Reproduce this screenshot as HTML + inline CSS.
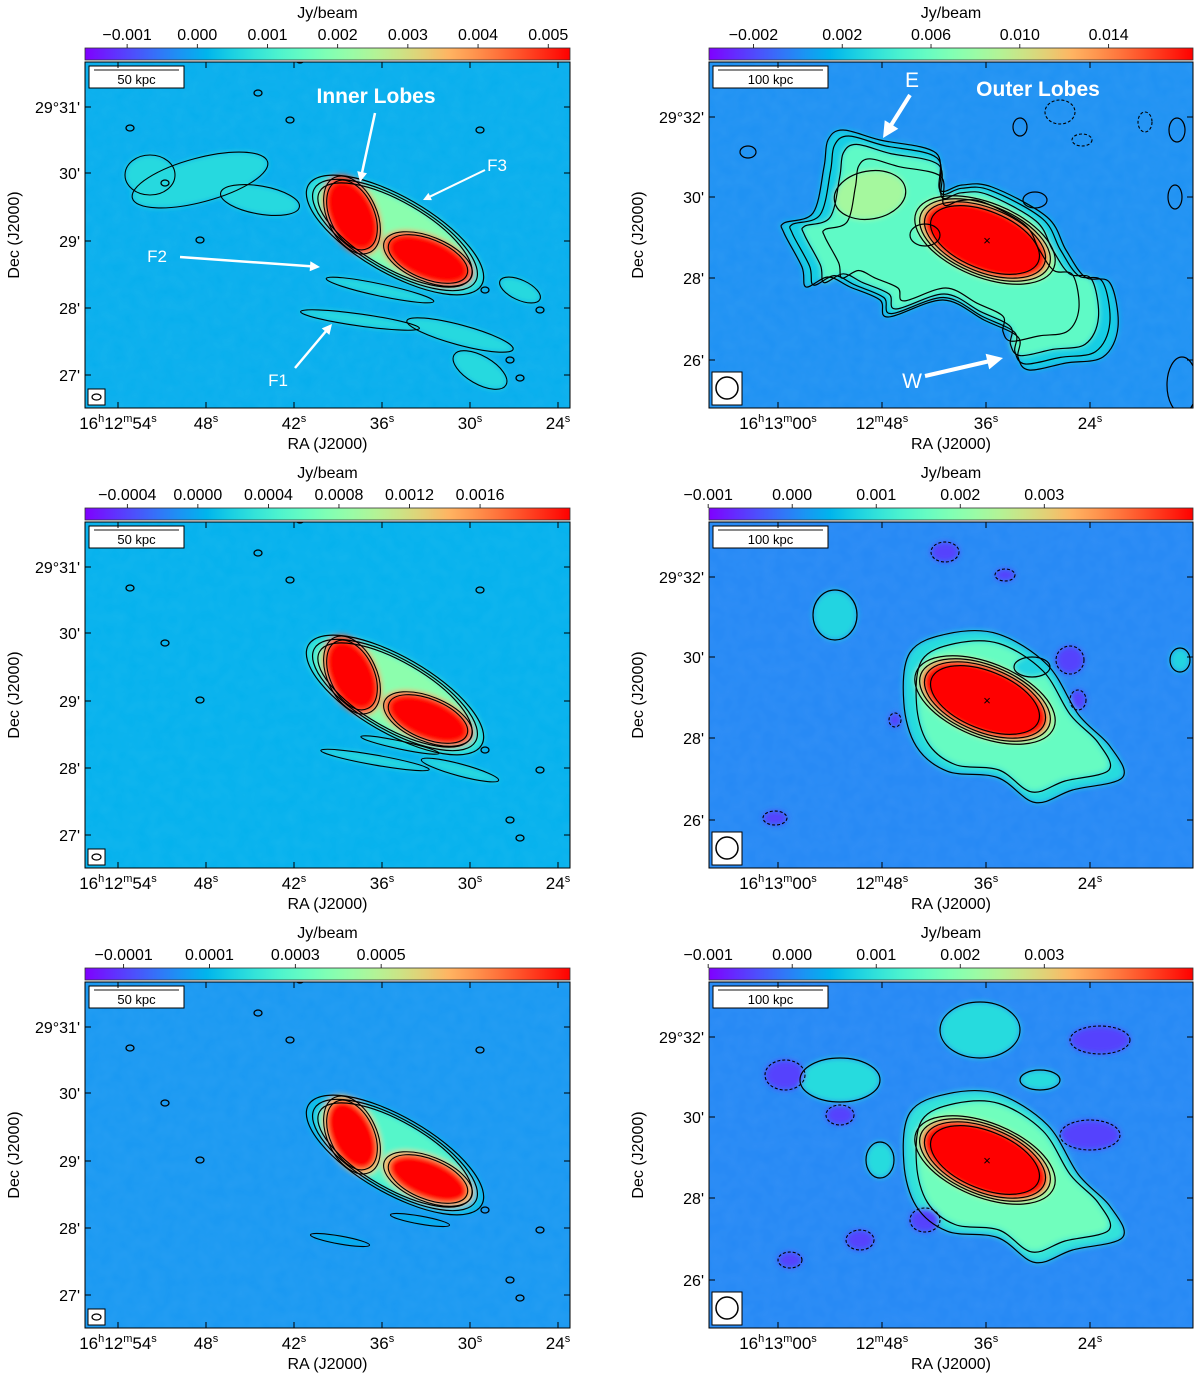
<!DOCTYPE html>
<html><head><meta charset="utf-8"><style>
html,body{margin:0;padding:0;background:#fff}
svg{display:block;font-family:"Liberation Sans","DejaVu Sans",sans-serif}
</style></head><body>
<svg id="fig" width="1200" height="1379" viewBox="0 0 1200 1379" xmlns="http://www.w3.org/2000/svg">
<defs>
<filter id="blur" x="-30%" y="-30%" width="160%" height="160%"><feGaussianBlur stdDeviation="3"/></filter>
<filter id="noise" x="0" y="0" width="100%" height="100%"><feTurbulence type="fractalNoise" baseFrequency="0.08" numOctaves="2" seed="3"/><feColorMatrix values="0 0 0 0 1  0 0 0 0 1  0 0 0 0 1  0 0 0 0.10 0"/></filter>
</defs>
</svg>
<script>
// ---- data ----
const cbMin = [-0.0016, -0.0040, -0.00064, -0.00099, -0.00019, -0.00099];
const cbMax = [0.00531, 0.0178, 0.00211, 0.00477, 0.00094, 0.00477];
const cbTicks = [
  [-0.001,0,0.001,0.002,0.003,0.004,0.005],
  [-0.002,0.002,0.006,0.010,0.014],
  [-0.0004,0,0.0004,0.0008,0.0012,0.0016],
  [-0.001,0,0.001,0.002,0.003],
  [-0.0001,0.0001,0.0003,0.0005],
  [-0.001,0,0.001,0.002,0.003]
];
const cbLabels = [
  ["−0.001","0.000","0.001","0.002","0.003","0.004","0.005"],
  ["−0.002","0.002","0.006","0.010","0.014"],
  ["−0.0004","0.0000","0.0004","0.0008","0.0012","0.0016"],
  ["−0.001","0.000","0.001","0.002","0.003"],
  ["−0.0001","0.0001","0.0003","0.0005"],
  ["−0.001","0.000","0.001","0.002","0.003"]
];
const bgValue = [0.00005, 0.0002, 0.00003, 0.00004, 0.00004, 0.00004];
const leftLevels = [[0.0008,0.0020,0.0065],[0.00035,0.0008,0.0025],[0.00012,0.00028,0.0009]];
const rightLevels = [[0.0025,0.0055,0.0085,0.020],[0.0009,0.0016,0.0024,0.006],[0.0010,0.0017,0.0024,0.006]];
const leftYLabels = ["29°31'","30'","29'","28'","27'"];
const rightYLabels = ["29°32'","30'","28'","26'"];
// ---- geometry ----
const svg = document.getElementById('fig');
const NS = 'http://www.w3.org/2000/svg';
function mk(tag, attrs, parent){const e=document.createElementNS(NS,tag);for(const k in attrs)e.setAttribute(k,attrs[k]);(parent||svg).appendChild(e);return e;}
function rainbow(t){t=Math.max(0,Math.min(1,t));const c=v=>Math.round(255*Math.max(0,Math.min(1,v)));
  return 'rgb('+c(Math.abs(2*t-0.5))+','+c(Math.sin(Math.PI*t))+','+c(Math.cos(Math.PI*t/2))+')';}
const cols=[{x0:85,x1:570},{x0:709,x1:1193}];
const rowDy=[0,460,920];
const leftYPos=[107,173,241,308,375], rightYPos=[117,197,278,360];
const leftXPos=[118,206,294,382,470,558], rightXPos=[778,882,986,1090];
const leftXLab=[["16","h","12","m","54","s"],["48","s"],["42","s"],["36","s"],["30","s"],["24","s"]];
const rightXLab=[["16","h","13","m","00","s"],["12","m","48","s"],["36","s"],["24","s"]];

function ellipsePath(cx,cy,rx,ry,rot){return {cx,cy,rx,ry,rot};}
function drawEll(g,e,s,fill,stroke,sw,dash,filt){
  const a={cx:e.cx,cy:e.cy,rx:e.rx*s,ry:e.ry*s,transform:'rotate('+e.rot+' '+e.cx+' '+e.cy+')',fill:fill||'none'};
  if(stroke){a.stroke=stroke;a['stroke-width']=sw||1.2;} if(dash)a['stroke-dasharray']=dash; if(filt)a.filter=filt;
  return mk('ellipse',a,g);}
function polyD(pts,dy,sc,cx,cy){
  const P=pts.map(p=>[cx+(p[0]-cx)*sc,cy+(p[1]-cy)*sc+dy]);const n=P.length;
  let d='M'+P[0][0].toFixed(1)+','+P[0][1].toFixed(1);
  for(let i=0;i<n;i++){const p0=P[(i-1+n)%n],p1=P[i],p2=P[(i+1)%n],p3=P[(i+2)%n];
    const c1=[p1[0]+(p2[0]-p0[0])/6,p1[1]+(p2[1]-p0[1])/6],c2=[p2[0]-(p3[0]-p1[0])/6,p2[1]-(p3[1]-p1[1])/6];
    d+=' C'+c1.map(v=>v.toFixed(1)).join(',')+' '+c2.map(v=>v.toFixed(1)).join(',')+' '+p2.map(v=>v.toFixed(1)).join(',');}
  return d+' Z';}

const outerPts=[[828,140],[843,130],[880,140],[936,153],[940,190],[962,185],[992,187],[1047,217],[1066,250],[1085,277],[1110,283],[1118,327],[1103,357],[1066,363],[1029,370],[1018,357],[1018,337],[984,320],[943,300],[888,317],[880,300],[850,287],[828,277],[806,287],[802,267],[784,233],[784,223],[813,213],[824,167]];
const core2Pts=[[930,205],[960,190],[1000,190],[1040,215],[1065,255],[1090,280],[1100,305],[1060,315],[1030,325],[1000,305],[960,300],[935,280],[925,245]];

for(let p=0;p<6;p++){
  const r=Math.floor(p/2), c=p%2, dy=rowDy[r], x0=cols[c].x0, x1=cols[c].x1;
  const vmin=cbMin[p], vmax=cbMax[p];
  const sx=v=>x0+(v-vmin)/(vmax-vmin)*(x1-x0);
  const col=v=>rainbow((v-vmin)/(vmax-vmin));
  const g=mk('g',{},svg);
  
  
  const gid='cb'+p;
  const lg=mk('linearGradient',{id:gid,x1:0,x2:1,y1:0,y2:0},svg.querySelector('defs'));
  for(let i=0;i<=20;i++)mk('stop',{offset:(i/20),'stop-color':rainbow(i/20)},lg);
  const cb=mk('rect',{x:x0,y:48+dy,width:x1-x0,height:12,fill:'url(#'+gid+')',stroke:'#333','stroke-width':0.8},g);
  
  
  cbTicks[p].forEach((v,i)=>{const x=sx(v);
    mk('line',{x1:x,x2:x,y1:48+dy,y2:44+dy,stroke:'#000','stroke-width':0.8},g);
    const t=mk('text',{x:x,y:40+dy,'text-anchor':'middle','font-size':16,fill:'#000'},g);t.textContent=cbLabels[p][i];
    
    });
  const jl=mk('text',{x:(x0+x1)/2,y:18+dy,'text-anchor':'middle','font-size':16},g);jl.textContent='Jy/beam';
  
  
  const cid='clip'+p;
  const cp=mk('clipPath',{id:cid},svg.querySelector('defs'));mk('rect',{x:x0,y:62+dy,width:x1-x0,height:346},cp);
  const im=mk('g',{'clip-path':'url(#'+cid+')'},g);
  
  
  mk('rect',{x:x0,y:62+dy,width:x1-x0,height:346,fill:col(bgValue[p])},im);
  mk('rect',{x:x0,y:62+dy,width:x1-x0,height:346,filter:'url(#noise)',opacity:0.6},im);
  const fills=mk('g',{filter:'url(#blur)'},im), cont=mk('g',{},im);
  if(c===0){
    const L=leftLevels[r];
    const env=ellipsePath(395,235+dy,100,38,30), eL=ellipsePath(352,215+dy,22,37,-25), wL=ellipsePath(428,259+dy,42,20,22);
    if(r===0){
      const fil=[[200,180,70,22,-15],[150,175,25,20,0],[260,200,40,14,10],[360,320,60,6,8],[460,335,55,10,15],[380,290,55,6,12],[480,370,30,14,30],[520,290,22,10,25]];
      fil.forEach(f=>{const e=ellipsePath(f[0],f[1]+dy,f[2],f[3],f[4]);drawEll(fills,e,1,col(L[0]*0.8));drawEll(cont,e,1,null,'#000',1.1);});
    } else {
      const fil=r===1?[[375,300,55,5,10],[460,310,40,6,15],[400,285,40,4,12]]:[[340,320,30,4,10],[420,300,30,4,10]];
      fil.forEach(f=>{const e=ellipsePath(f[0],f[1]+dy,f[2],f[3],f[4]);drawEll(fills,e,1,col(L[0]*0.7));drawEll(cont,e,1,null,'#000',1.1);});
    }
    drawEll(fills,env,1,col(L[0])); drawEll(fills,env,0.88,col(L[1]));
    drawEll(fills,eL,1.15,col(L[2]*0.7)); drawEll(fills,wL,1.15,col(L[2]*0.7));
    drawEll(fills,eL,1,col(L[2]*1.2)); drawEll(fills,wL,1,col(L[2]*1.1));
    [1,0.93,0.87].forEach(s=>drawEll(cont,env,s,null,'#000',1.2));
    [1.12,1].forEach(s=>{drawEll(cont,eL,s,null,'#000',1.1);drawEll(cont,wL,s,null,'#000',1.1);});
    [[258,93],[130,128],[165,183],[480,130],[540,310],[520,378],[200,240],[300,60],[290,120],[485,290],[510,360]].forEach(s=>{
      mk('ellipse',{cx:s[0],cy:s[1]+dy,rx:4,ry:3,fill:'none',stroke:'#000','stroke-width':1.3},cont);});
  } else {
    const L=rightLevels[r];
    const core=ellipsePath(985,240+dy,64,32,22);
    if(r===0){
      mk('path',{d:polyD(outerPts,dy,1,955,250),fill:col(L[0])},fills);
      mk('path',{d:polyD(outerPts,dy,0.88,955,250),fill:col(L[1])},fills);
      drawEll(fills,ellipsePath(870,195+dy,36,24,-10),1,col(L[2]));
      [1,0.95,0.88,0.76].forEach(s=>mk('path',{d:polyD(outerPts,dy,s,955,250),fill:'none',stroke:'#000','stroke-width':1.2},cont));
      mk('ellipse',{cx:870,cy:195+dy,rx:36,ry:24,transform:'rotate(-10 870 '+(195+dy)+')',fill:'none',stroke:'#000','stroke-width':1.2},cont);
      mk('ellipse',{cx:925,cy:235+dy,rx:15,ry:11,fill:'none',stroke:'#000','stroke-width':1.2},cont);
      [[1020,127,7,9],[1035,200,12,8],[1175,197,7,12],[1177,130,8,12],[748,152,8,6],[1182,385,15,28]].forEach(s=>mk('ellipse',{cx:s[0],cy:s[1]+dy,rx:s[2],ry:s[3],fill:'none',stroke:'#000','stroke-width':1.2},cont));
      [[1060,112,15,12],[1082,140,10,6],[1145,122,7,10]].forEach(s=>mk('ellipse',{cx:s[0],cy:s[1]+dy,rx:s[2],ry:s[3],fill:'none',stroke:'#000','stroke-width':1.1,'stroke-dasharray':'3,2'},cont));
    } else {
      mk('path',{d:polyD(core2Pts,dy,1.25,1010,255),fill:col(L[0])},fills);
      mk('path',{d:polyD(core2Pts,dy,1.08,1010,255),fill:col(L[1])},fills);
      [1.25,1.1].forEach(s=>mk('path',{d:polyD(core2Pts,dy,s,1010,255),fill:'none',stroke:'#000','stroke-width':1.2},cont));
      const blobs=r===1?[[835,155,22,25],[1032,207,18,10],[1180,200,10,12]]:[[840,160,40,22],[880,240,14,18],[980,110,40,28],[1040,160,20,10]];
      blobs.forEach(s=>{const e=ellipsePath(s[0],s[1]+dy,s[2],s[3],0);drawEll(fills,e,1,col(L[0]*0.9));drawEll(cont,e,1,null,'#000',1.2);});
      const neg=r===1?[[945,92,14,10],[1070,200,14,14],[1078,240,8,10],[1005,115,10,6],[775,358,12,7],[895,260,6,7]]:[[785,155,20,15],[840,195,14,10],[1090,215,30,15],[1100,120,30,14],[925,300,15,12],[860,320,14,10],[790,340,12,8]];
      neg.forEach(s=>{const e=ellipsePath(s[0],s[1]+dy,s[2],s[3],0);drawEll(fills,e,1,col(-0.0005));drawEll(cont,e,1,null,'#000',1.1,'3,2');});
    }
    drawEll(fills,core,1.15,col(L[2]));
    drawEll(fills,core,1.05,col(L[3]*0.7));
    drawEll(fills,core,1,col(L[3]*1.5));
    [1.16,1.08,1,0.9].forEach(s=>drawEll(cont,core,s,null,'#000',1.2));
    const xm=mk('text',{x:987,y:245+dy,'text-anchor':'middle','font-size':13,fill:'#000'},cont);xm.textContent='×';
    
    
  }
  mk('rect',{x:x0,y:62+dy,width:x1-x0,height:346,fill:'none',stroke:'#000','stroke-width':1},g);
  const sbw=c===0?95:115;
  const sb=mk('g',{},g);
  
  
  mk('rect',{x:x0+4,y:66+dy,width:sbw,height:22,fill:'#fff',stroke:'#000','stroke-width':1},sb);
  mk('line',{x1:x0+9,x2:x0+sbw-1,y1:70+dy,y2:70+dy,stroke:'#444','stroke-width':1.2},sb);
  const st=mk('text',{x:x0+4+sbw/2,y:84+dy,'text-anchor':'middle','font-size':13},sb);st.textContent=c===0?'50 kpc':'100 kpc';
  const bm=mk('g',{},g);
  
  
  if(c===0){mk('rect',{x:88,y:389+dy,width:17,height:16,fill:'#fff',stroke:'#000'},bm);mk('ellipse',{cx:96.5,cy:397+dy,rx:4.5,ry:3,fill:'none',stroke:'#000','stroke-width':1.3},bm);}
  else{mk('rect',{x:712,y:372+dy,width:30,height:33,fill:'#fff',stroke:'#000'},bm);mk('circle',{cx:727,cy:388+dy,r:11,fill:'none',stroke:'#000','stroke-width':1.5},bm);}
  const yp=c===0?leftYPos:rightYPos, yl=c===0?leftYLabels:rightYLabels;
  yp.forEach((y,i)=>{mk('line',{x1:x0,x2:x0+6,y1:y+dy,y2:y+dy,stroke:'#000'},g);mk('line',{x1:x1,x2:x1-6,y1:y+dy,y2:y+dy,stroke:'#000'},g);
    const t=mk('text',{x:x0-5,y:y+6+dy,'text-anchor':'end','font-size':16},g);t.textContent=yl[i];
    
    });
  const xp=c===0?leftXPos:rightXPos, xl=c===0?leftXLab:rightXLab;
  xp.forEach((x,i)=>{mk('line',{x1:x,x2:x,y1:408+dy,y2:402+dy,stroke:'#000'},g);mk('line',{x1:x,x2:x,y1:62+dy,y2:68+dy,stroke:'#000'},g);
    const t=mk('text',{x:x,y:429+dy,'text-anchor':'middle','font-size':17},g);
    
    
    xl[i].forEach((s,k)=>{const ts=mk('tspan',k%2?{'font-size':11,dy:-7}:{'font-size':17,dy:k?7:0},t);ts.textContent=s;});});
  const rl=mk('text',{x:(x0+x1)/2,y:449+dy,'text-anchor':'middle','font-size':16},g);rl.textContent='RA (J2000)';
  
  
  const cxl=c===0?19:643;
  const dl=mk('text',{x:cxl,y:235+dy,'text-anchor':'middle','font-size':16,transform:'rotate(-90 '+cxl+' '+(235+dy)+')'},g);dl.textContent='Dec (J2000)';
  
  
}
function arrow(x1,y1,x2,y2,w){const a=Math.atan2(y2-y1,x2-x1),h=w*4;
  const g=mk('g',{},svg);
  mk('line',{x1,y1,x2:x2-Math.cos(a)*h*0.8,y2:y2-Math.sin(a)*h*0.8,stroke:'#fff','stroke-width':w},g);
  mk('polygon',{points:[x2,y2,x2-h*Math.cos(a)+h*0.5*Math.sin(a),y2-h*Math.sin(a)-h*0.5*Math.cos(a),x2-h*Math.cos(a)-h*0.5*Math.sin(a),y2-h*Math.sin(a)+h*0.5*Math.cos(a)].join(','),fill:'#fff'},g);return g;}
function label(x,y,s,size,bold,name){const t=mk('text',{x,y,'font-size':size,fill:'#fff','font-weight':bold?'bold':'normal','text-anchor':'middle'});t.textContent=s;
  
  }
label(376,103,'Inner Lobes',21,true,'inner-lobes-label');arrow(375,113,360,182,2.5);
label(497,171,'F3',17,false,'f3-label');arrow(485,170,423,200,2);
label(157,262,'F2',17,false,'f2-label');arrow(180,257,320,267,2.5);
label(278,386,'F1',17,false,'f1-label');arrow(295,368,332,324,2.5);
label(1038,96,'Outer Lobes',21,true,'outer-lobes-label');
label(912,87,'E',21,false,'e-label');arrow(910,95,883,138,4);
label(912,388,'W',21,false,'w-label');arrow(925,376,1003,358,4);
</script>
</body></html>
